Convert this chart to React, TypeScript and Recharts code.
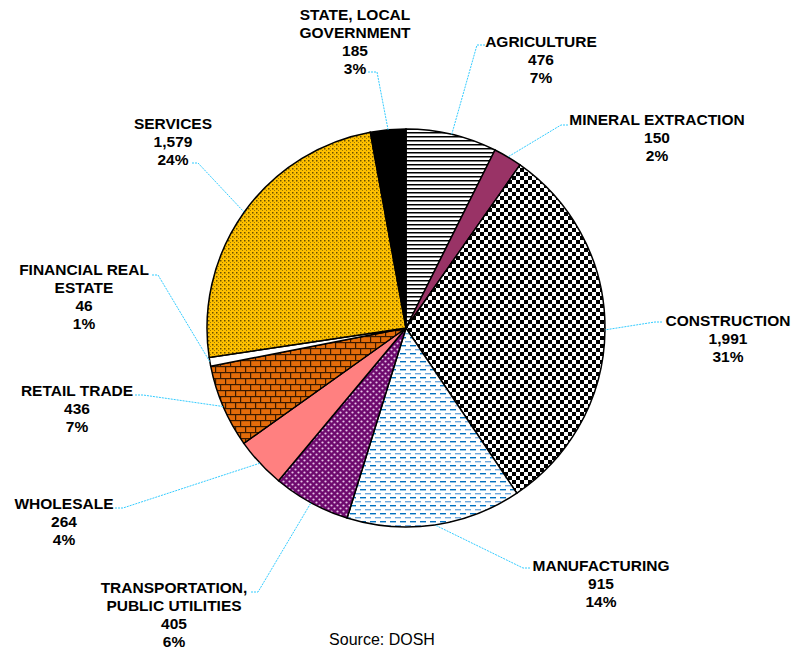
import React from 'react'
import { PieChart, Pie, Cell } from 'recharts'

// Injury/illness counts by industry (clockwise from 12 o'clock)
const CATEGORIES = [
    'AGRICULTURE',
    'MINERAL EXTRACTION',
    'CONSTRUCTION',
    'MANUFACTURING',
    'TRANSPORTATION,|PUBLIC UTILITIES',
    'WHOLESALE',
    'RETAIL TRADE',
    'FINANCIAL REAL|ESTATE',
    'SERVICES',
    'STATE, LOCAL|GOVERNMENT',
]
const VALUES = [476, 150, 1991, 915, 405, 264, 436, 46, 1579, 185]
const FILLS = [
    'url(#pAgri)',
    '#993366',
    'url(#pCheck)',
    'url(#pDash)',
    'url(#pSphere)',
    '#FF8080',
    'url(#pBrick)',
    '#FFFFFF',
    'url(#pDots)',
    '#000000',
]

/* ---------- label layout (text centre, first line y, leader stub) ---------- */
const LABEL_LAYOUT = [
    { x: 541, y: 41, tx: 485, ty: 45, bx: 477 },
    { x: 657, y: 119, tx: 568, ty: 125, bx: 561 },
    { x: 728, y: 320, tx: 662, ty: 322, bx: 655 },
    { x: 601, y: 565, tx: 530, ty: 568, bx: 523 },
    { x: 174, y: 587, tx: 251, ty: 592, bx: 258 },
    { x: 64, y: 503, tx: 115, ty: 508, bx: 123 },
    { x: 77, y: 390, tx: 135, ty: 395, bx: 143 },
    { x: 84, y: 269, tx: 152, ty: 275, bx: 158 },
    { x: 173, y: 123, tx: 192, ty: 163, bx: 198 },
    { x: 355, y: 14, tx: 368, ty: 72, bx: 377 },
]
const LINE_H = 18
const FONT = '"Liberation Sans", Arial, sans-serif'

const total = VALUES.reduce((a, b) => a + b, 0)
const data = CATEGORIES.map((name, i) => ({ name, value: VALUES[i] }))

const RAD = Math.PI / 180

const renderLabel = (props: any) => {
    const { cx, cy, midAngle, outerRadius, index } = props
    const lay = LABEL_LAYOUT[index]
    const ex = cx + outerRadius * Math.cos(-midAngle * RAD)
    const ey = cy + outerRadius * Math.sin(-midAngle * RAD)
    const v = VALUES[index]
    const lines = [
        ...CATEGORIES[index].split('|'),
        v.toLocaleString('en-US'),
        `${Math.round((v / total) * 100)}%`,
    ]
    return (
        <g key={`lbl-${index}`}>
            <polyline
                points={`${lay.tx},${lay.ty} ${lay.bx},${lay.ty} ${ex},${ey}`}
                fill="none"
                stroke="#33CCFF"
                strokeWidth={1}
                strokeDasharray="2 1"
            />
            <text
                x={lay.x}
                y={lay.y}
                textAnchor="middle"
                fontFamily={FONT}
                fontWeight="bold"
                fontSize={15.5}
                fill="#000"
            >
                {lines.map((l, k) => (
                    <tspan key={k} x={lay.x} y={lay.y + k * LINE_H} dominantBaseline="central">
                        {l}
                    </tspan>
                ))}
            </text>
        </g>
    )
}

/* ---------- fill patterns (Excel-ish) ---------- */
const Patterns = () => (
    <svg width={0} height={0} style={{ position: 'absolute' }}>
        <defs>
            <pattern id="pAgri" width={4} height={4} patternUnits="userSpaceOnUse">
                <rect width={4} height={4} fill="#fff" />
                <rect y={0} width={4} height={1.5} fill="#000" />
            </pattern>
            <pattern id="pCheck" width={8} height={8} patternUnits="userSpaceOnUse">
                <rect width={8} height={8} fill="#fff" />
                <rect x={0} y={0} width={4} height={4} fill="#000" />
                <rect x={4} y={4} width={4} height={4} fill="#000" />
            </pattern>
            <pattern id="pDash" width={10} height={8} patternUnits="userSpaceOnUse">
                <rect width={10} height={8} fill="#fff" />
                <rect x={0} y={1} width={6} height={1.4} fill="#0070C0" />
                <rect x={5} y={5} width={5} height={1.4} fill="#6FA8DC" />
                <rect x={0} y={5} width={1} height={1.4} fill="#6FA8DC" />
            </pattern>
            <pattern id="pSphere" width={6} height={6} patternUnits="userSpaceOnUse">
                <rect width={6} height={6} fill="#6E0A6E" />
                <circle cx={1.5} cy={1.5} r={1.1} fill="#E6C4E6" />
                <circle cx={4.5} cy={4.5} r={1.1} fill="#E6C4E6" />
            </pattern>
            <pattern id="pBrick" width={10} height={12} patternUnits="userSpaceOnUse">
                <rect width={10} height={12} fill="#E46C0A" />
                <rect x={0} y={0} width={10} height={1.2} fill="#3a1a00" />
                <rect x={0} y={6} width={10} height={1.2} fill="#3a1a00" />
                <rect x={0} y={0} width={1.2} height={6} fill="#3a1a00" />
                <rect x={5} y={6} width={1.2} height={6} fill="#3a1a00" />
            </pattern>
            <pattern id="pDots" width={4} height={4} patternUnits="userSpaceOnUse">
                <rect width={4} height={4} fill="#FFC000" />
                <rect x={0} y={0} width={1.5} height={1.5} fill="#6b5000" />
                <rect x={2} y={2} width={1} height={1} fill="#a07800" />
            </pattern>
        </defs>
    </svg>
)

export default function App() {
    return (
        <div style={{ position: 'absolute', left: 0, top: 0, width: 791, height: 652, background: '#fff' }}>
            <Patterns />
            <PieChart width={791} height={652} margin={{ top: 0, right: 0, bottom: 0, left: 0 }}>
                <Pie
                    data={data}
                    dataKey="value"
                    nameKey="name"
                    cx={406}
                    cy={328}
                    outerRadius={199}
                    startAngle={90}
                    endAngle={-270}
                    stroke="#000"
                    strokeWidth={1.5}
                    label={renderLabel}
                    labelLine={false}
                    isAnimationActive={false}
                >
                    {data.map((d, i) => (
                        <Cell key={d.name} fill={FILLS[i]} />
                    ))}
                </Pie>
            </PieChart>
            <div
                style={{
                    position: 'absolute',
                    left: 0,
                    width: 764,
                    top: 630,
                    textAlign: 'center',
                    fontFamily: FONT,
                    fontSize: 16,
                    lineHeight: '20px',
                    color: '#000',
                }}
            >
                Source: DOSH
            </div>
        </div>
    )
}
